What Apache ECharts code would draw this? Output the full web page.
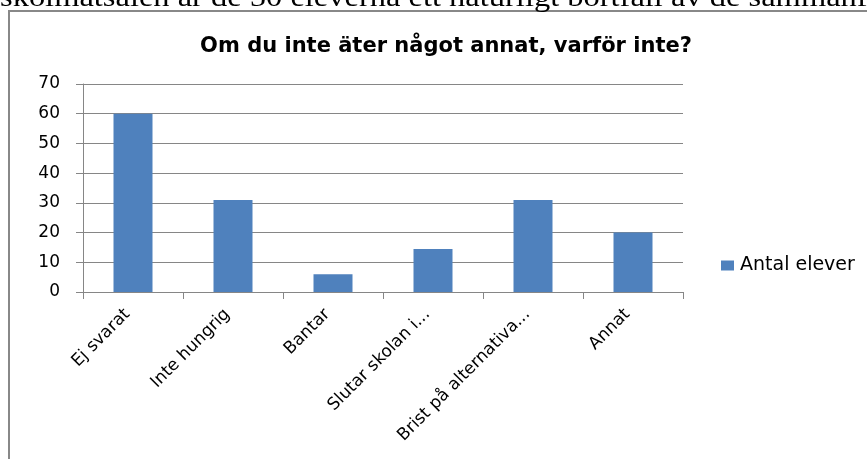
<!DOCTYPE html>
<html>
<head>
<meta charset="utf-8">
<script src="https://cdn.jsdelivr.net/npm/echarts@6/dist/echarts.min.js"></script>
<style>
  html, body {margin: 0; padding: 0; background: #fff;}
  #main {width: 867px; height: 459px;}
</style>
</head>
<body>
<div id="main"></div>
<script>
  const categories = ['Ej svarat', 'Inte hungrig', 'Bantar', 'Slutar skolan i...', 'Brist på alternativa...', 'Annat'];
  const antalElever = [60, 31, 6, 14.5, 31, 20];
  const yTicks = {min: 0, max: 70, interval: 10};

  const chart = echarts.init(document.getElementById('main'));
  const gray = '#868686';
  const font = 'DejaVu Sans';

  chart.setOption({
    animation: false,
    backgroundColor: '#fff',
    title: {
      text: 'Om du inte äter något annat, varför inte?',
      left: 441,
      textAlign: 'center',
      top: 31,
      textStyle: {fontFamily: font, fontSize: 21, fontWeight: 'bold', color: '#000'}
    },
    legend: {
      left: 721,
      top: 256,
      padding: 0,
      icon: 'rect',
      itemWidth: 13,
      itemHeight: 10,
      itemGap: 0,
      textStyle: {fontFamily: font, fontSize: 19, color: '#000', padding: [0, 0, 0, 1]},
      data: ['Antal elever']
    },
    grid: {left: 83, right: 184, top: 84, bottom: 167, outerBoundsMode: 'none'},
    xAxis: {
      type: 'category',
      data: categories,
      axisLine: {lineStyle: {color: gray}},
      axisTick: {show: true, length: 7, lineStyle: {color: gray}},
      axisLabel: {
        rotate: 45,
        interval: 0,
        margin: 14,
        padding: [0, 8, 0, 0],
        fontFamily: font,
        fontSize: 17,
        color: '#000'
      }
    },
    yAxis: {
      type: 'value',
      min: yTicks.min,
      max: yTicks.max,
      interval: yTicks.interval,
      axisLine: {show: true, lineStyle: {color: gray}},
      axisTick: {show: true, length: 7, lineStyle: {color: gray}},
      splitLine: {lineStyle: {color: gray}},
      axisLabel: {margin: 23, fontFamily: font, fontSize: 17, color: '#000'}
    },
    series: [{
      name: 'Antal elever',
      type: 'bar',
      data: antalElever,
      barWidth: 39,
      itemStyle: {color: '#4F81BD'}
    }],
    graphic: [
      {
        type: 'rect',
        shape: {x: 9, y: 11, width: 880, height: 470},
        style: {fill: 'none', stroke: '#888', lineWidth: 2},
        silent: true
      },
      {
        type: 'text',
        x: 0,
        y: 13,
        scaleX: 1.16,
        style: {
          text: 'skolmatsalen är de 50 eleverna ett naturligt bortfall av de sammanfattade',
          font: '28px "Liberation Serif"',
          fill: '#000',
          verticalAlign: 'bottom'
        }
      }
    ]
  });
</script>
</body>
</html>
